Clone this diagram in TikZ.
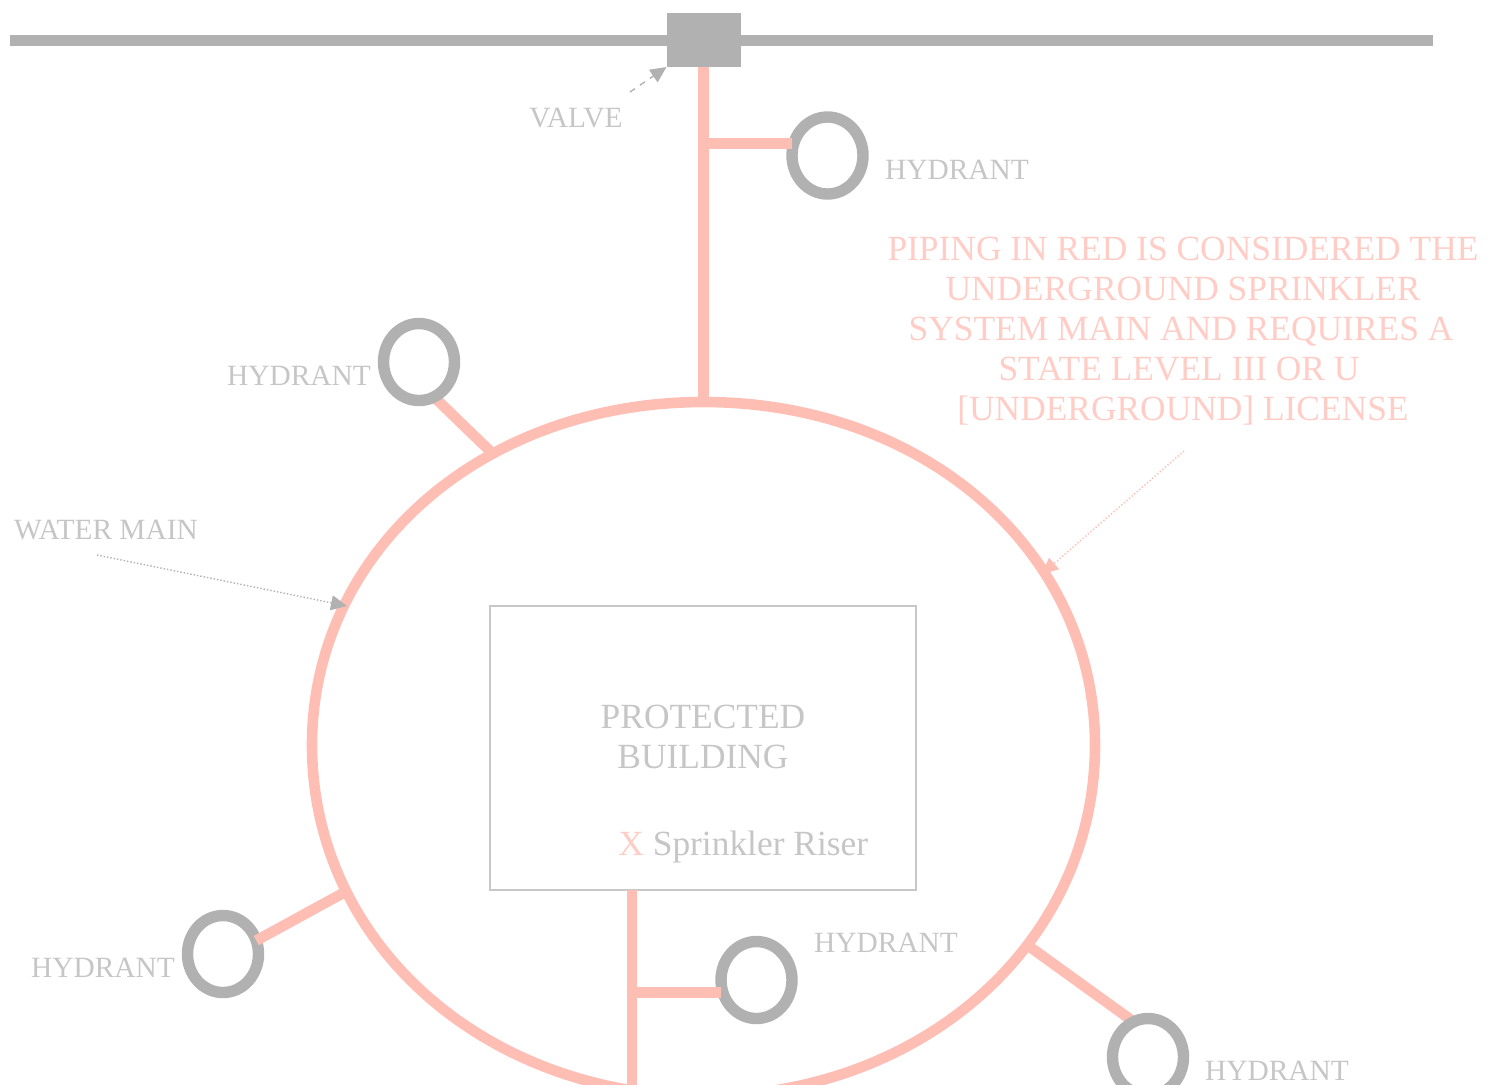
\documentclass[tikz,border=0pt]{standalone}
\usepackage{fontspec}
\setmainfont{Liberation Serif}
\usetikzlibrary{shapes.geometric,arrows.meta}
\definecolor{pipegrey}{HTML}{B1B1B1}
\definecolor{pipered}{HTML}{FFBEB4}
\definecolor{textgrey}{HTML}{C6C6C6}
\definecolor{textred}{HTML}{FFCDC6}
\definecolor{boxgrey}{HTML}{C8C8C8}
\tikzset{
  x=0.5pt,y=-0.5pt,
  hydrant/.style={draw=pipegrey,line width=5.7pt,ellipse,minimum width=35.5pt,minimum height=38.5pt,inner sep=0pt,outer sep=0pt},
  redpipe/.style={draw=pipered,line width=5.3pt},
  smalllabel/.style={text=textgrey,font=\fontsize{14.7}{20}\selectfont,inner sep=0pt},
  biglabel/.style={font=\fontsize{17.7}{20}\selectfont,inner sep=0pt,align=center},
  leader/.style={line width=0.7pt,-{Triangle[length=8pt,width=7.5pt]}}
}
\begin{document}
\begin{tikzpicture}
\path[use as bounding box] (0,0) rectangle (1487,1084);
\clip (0,0) rectangle (1487,1084);
% ring points
\coordinate (ringN) at (703.5,402);
\coordinate (ringE) at (1095,745);
\coordinate (ringS) at (703.5,1096);
\coordinate (ringW) at (312,745);
\coordinate (foot2) at (490,451);
\coordinate (foot3) at (345,892);
\coordinate (foot5) at (1030,947);
\coordinate (tipW) at (347,606);
\coordinate (tipR) at (1042,574);
% water main ring and building
\draw[redpipe] (ringW) .. controls (312,551) and (482.5,402) .. (ringN)
  .. controls (924.5,402) and (1095,551) .. (ringE)
  .. controls (1095,946) and (918.5,1096) .. (ringS)
  .. controls (488.5,1096) and (312,946) .. (ringW) -- cycle;
\node[draw=boxgrey,line width=1.2pt,minimum width=213pt,minimum height=142pt,inner sep=0pt,outer sep=0pt] (building) at (703,748) {};
% street main and valve
\coordinate (streetW) at (10,40);
\coordinate (streetE) at (1433,40);
\draw[pipegrey,line width=5.5pt] (streetW) -- (streetE);
\node[fill=pipegrey,minimum width=37pt,minimum height=27pt,inner sep=0pt,outer sep=0pt] (valve) at (703.5,40) {};
% hydrant stubs that pass under the hydrant ring
\coordinate (s2) at (432,395);
\coordinate (s5) at (1134,1022);
\draw[redpipe] (s2) -- (foot2);
\draw[redpipe] (s5) -- (foot5);
% hydrants
\node[hydrant] (h1) at (827.5,155.5) {};
\node[hydrant] (h2) at (419,362) {};
\node[hydrant] (h3) at (223,954) {};
\node[hydrant] (h4) at (756.5,980) {};
\node[hydrant] (h5) at (1148,1057) {};
% red pipes
\draw[redpipe] (valve.south) -- (ringN);
\draw[redpipe,shorten <=1pt] (h1.160) -- (h1.160 -| valve.south);
\draw[redpipe] (h3.22) -- (foot3);
\coordinate (riser) at (632,890);
\coordinate (riserEnd) at (632,1090);
\draw[redpipe] (riser) -- (riserEnd);
\coordinate (h4tee) at (632,993);
\draw[redpipe,shorten <=1pt] (h4.200) -- (h4.200 -| h4tee);
% labels
\node[smalllabel] (lv) at (576,118) {VALVE};
\node[smalllabel] (l1) at (957,170) {HYDRANT};
\node[smalllabel] (l2) at (299,376) {HYDRANT};
\node[smalllabel] (l3) at (103,968) {HYDRANT};
\node[smalllabel] (l4) at (886,943) {HYDRANT};
\node[smalllabel] (l5) at (1277,1071) {HYDRANT};
\node[smalllabel] (lw) at (106,530) {WATER MAIN};
\node[biglabel,text=textred] (note) at (1183,331) {PIPING IN RED IS CONSIDERED THE\\UNDERGROUND SPRINKLER\\SYSTEM MAIN AND REQUIRES A\rule{2pt}{0pt}\\STATE LEVEL III OR U\rule{4pt}{0pt}\\{[}UNDERGROUND{]} LICENSE};
\node[biglabel,text=textgrey] (bl) at (703,737) {PROTECTED\\BUILDING};
\node[biglabel,text=textgrey,anchor=west] (riserlabel) at (618,847) {\textcolor{textred}{X} Sprinkler Riser};
% leaders
\coordinate (vs) at (630,92);
\draw[leader,pipegrey,dashed] (vs) -- (valve.south west);
\coordinate (ws) at (97,555);
\draw[leader,pipegrey,densely dotted] (ws) -- (tipW);
\coordinate (ns) at (1184,451);
\draw[leader,pipered,densely dotted] (ns) -- (tipR);
\end{tikzpicture}
\end{document}
